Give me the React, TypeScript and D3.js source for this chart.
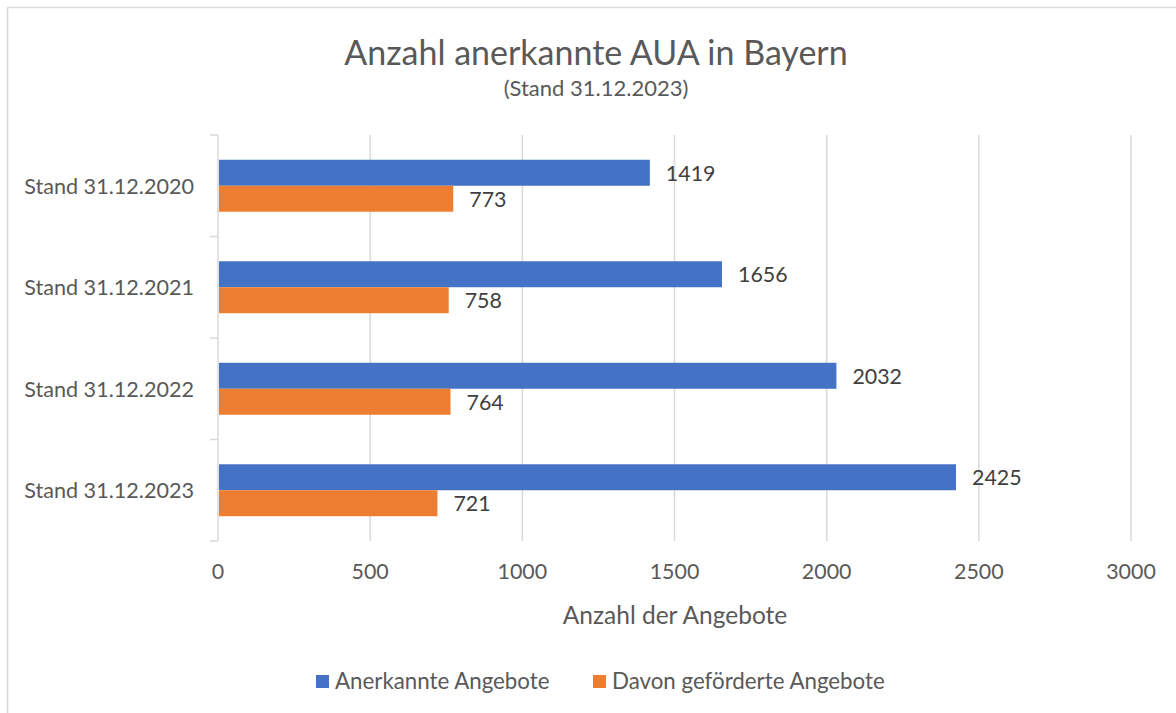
import React, { useEffect, useRef } from 'react';
import * as d3 from 'd3';

const categories = ['Stand 31.12.2020', 'Stand 31.12.2021', 'Stand 31.12.2022', 'Stand 31.12.2023'];
const seriesNames = ['Anerkannte Angebote', 'Davon geförderte Angebote'];
const anerkannt = [1419, 1656, 2032, 2425];
const gefoerdert = [773, 758, 764, 721];
const xTicks = [0, 500, 1000, 1500, 2000, 2500, 3000];
const colors = ['#4472C4', '#ED7D31'];

const App = () => {
  const ref = useRef(null);

  useEffect(() => {
    const svg = d3.select(ref.current);
    svg.selectAll('*').remove();

    const width = 1176;
    const height = 713;
    const margin = { top: 135, right: 45, bottom: 172, left: 218 };
    const font = 'Lato, Carlito, Calibri, sans-serif';
    const grey = '#d9d9d9';

    svg.attr('width', width).attr('height', height);

    svg.append('rect')
      .attr('width', width).attr('height', height).attr('fill', '#fff');

    // chart frame (runs past the right and bottom edge)
    svg.append('rect')
      .attr('x', 7.5).attr('y', 7.5)
      .attr('width', width + 20).attr('height', height + 20)
      .attr('fill', 'none').attr('stroke', grey).attr('stroke-width', 1.5);

    const x = d3.scaleLinear()
      .domain([0, 3000])
      .range([margin.left, width - margin.right]);

    const y = d3.scaleBand()
      .domain(categories)
      .range([margin.top, height - margin.bottom])
      .paddingInner(0.488)
      .paddingOuter(0.244);

    const sub = d3.scaleBand()
      .domain(seriesNames)
      .range([0, y.bandwidth()]);

    const step = y.step();
    const top = margin.top;
    const bottom = height - margin.bottom;

    // Gridlines
    svg.append('g')
      .selectAll('line')
      .data(xTicks.slice(1))
      .enter()
      .append('line')
      .attr('x1', d => x(d)).attr('x2', d => x(d))
      .attr('y1', top).attr('y2', bottom)
      .attr('stroke', grey).attr('stroke-width', 1.5);

    // Category axis
    svg.append('line')
      .attr('x1', x(0)).attr('x2', x(0))
      .attr('y1', top).attr('y2', bottom)
      .attr('stroke', grey).attr('stroke-width', 1.5);

    svg.append('g')
      .selectAll('line')
      .data(d3.range(categories.length + 1))
      .enter()
      .append('line')
      .attr('x1', x(0) - 8).attr('x2', x(0))
      .attr('y1', i => top + i * step).attr('y2', i => top + i * step)
      .attr('stroke', grey).attr('stroke-width', 1.5);

    svg.append('g')
      .selectAll('text')
      .data(categories)
      .enter()
      .append('text')
      .attr('x', 194)
      .attr('y', d => y(d) + y.bandwidth() / 2 + 8)
      .attr('text-anchor', 'end')
      .attr('font-family', font).attr('font-size', 21.6)
      .attr('fill', '#595959')
      .text(d => d);

    // X tick labels
    svg.append('g')
      .selectAll('text')
      .data(xTicks)
      .enter()
      .append('text')
      .attr('x', d => x(d))
      .attr('y', 579)
      .attr('text-anchor', 'middle')
      .attr('font-family', font).attr('font-size', 21.4)
      .attr('fill', '#595959')
      .text(d => d);

    // Bars
    const series = [anerkannt, gefoerdert];
    series.forEach((vals, si) => {
      const g = svg.append('g');
      g.selectAll('rect')
        .data(vals)
        .enter()
        .append('rect')
        .attr('x', x(0) + 1)
        .attr('y', (d, i) => y(categories[i]) + sub(seriesNames[si]))
        .attr('width', d => x(d) - x(0) - 1)
        .attr('height', sub.bandwidth())
        .attr('fill', colors[si]);

      g.selectAll('text')
        .data(vals)
        .enter()
        .append('text')
        .attr('x', d => x(d) + 16)
        .attr('y', (d, i) => y(categories[i]) + sub(seriesNames[si]) + sub.bandwidth() / 2 + 8)
        .attr('font-family', font).attr('font-size', 21.4)
        .attr('fill', '#404040')
        .text(d => d);
    });

    // Titles
    svg.append('text')
      .attr('x', 596).attr('y', 65)
      .attr('text-anchor', 'middle')
      .attr('font-family', font).attr('font-size', 34)
      .attr('fill', '#595959')
      .text('Anzahl anerkannte AUA in Bayern');

    svg.append('text')
      .attr('x', 596).attr('y', 96)
      .attr('text-anchor', 'middle')
      .attr('font-family', font).attr('font-size', 22)
      .attr('fill', '#595959')
      .text('(Stand 31.12.2023)');

    svg.append('text')
      .attr('x', 675).attr('y', 624)
      .attr('text-anchor', 'middle')
      .attr('font-family', font).attr('font-size', 24.5)
      .attr('fill', '#595959')
      .text('Anzahl der Angebote');

    // Legend
    const legendX = [316, 593];
    const legend = svg.append('g');
    seriesNames.forEach((name, i) => {
      legend.append('rect')
        .attr('x', legendX[i]).attr('y', 675)
        .attr('width', 13).attr('height', 13)
        .attr('fill', colors[i]);
      legend.append('text')
        .attr('x', legendX[i] + 19).attr('y', 689)
        .attr('font-family', font).attr('font-size', 22.3)
        .attr('fill', '#595959')
        .text(name);
    });
  }, []);

  return <svg ref={ref} style={{ position: 'absolute', left: 0, top: 0 }}></svg>;
};

export default App;
